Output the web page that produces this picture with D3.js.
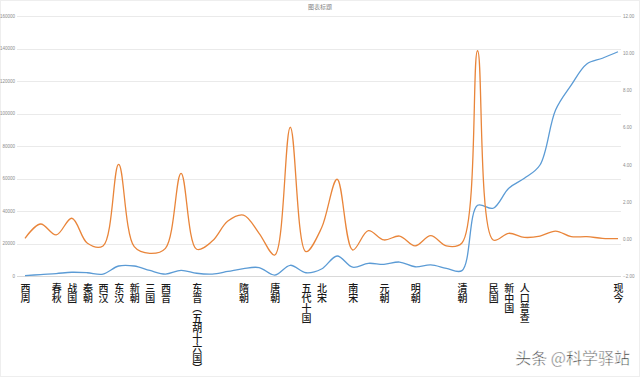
<!DOCTYPE html>
<html>
<head>
<meta charset="utf-8">
<script src="https://cdn.jsdelivr.net/npm/d3@7"></script>
<style>
  body { margin: 0; background: #fff; }
</style>
</head>
<body>
<div id="chart"></div>
<script>
// Period labels along the x axis (empty = unlabeled point)
const categories = [
    "西周", "", "春秋", "战国", "秦朝", "西汉", "东汉", "新朝", "三国", "西晋",
    "", "东晋（五胡十六国）", "", "", "隋朝", "", "唐朝", "", "五代十国", "北宋",
    "", "南宋", "", "元朝", "", "明朝", "", "", "清朝", "",
    "民国", "新中国", "人口普查", "", "", "", "", "", "现今"
];

// Blue series (left axis)
const population = [
    200, 900, 1500, 2300, 2000, 1200, 6150, 6150, 3400, 1200,
    3500, 1700, 1200, 2800, 4600, 5200, 600, 6600, 2000, 4300,
    12300, 5400, 7800, 7200, 8600, 5700, 6800, 4700, 3300, 43500,
    41700, 54000, 60100, 68300, 102200, 117500, 130500, 134000, 138000
];

// Orange series (right axis)
const growth = [
    0.03, 0.80, 0.21, 1.11, -0.24, -0.38, 4.01, -0.42, -0.78, -0.51,
    3.53, -0.56, -0.12, 0.96, 1.28, 0.30, -0.87, 6.01, -0.69, 0.58,
    3.21, -0.60, 0.44, -0.06, 0.15, -0.38, 0.17, -0.38, -0.22, 10.13,
    -0.06, 0.30, 0.08, 0.15, 0.42, 0.12, 0.12, 0.03, 0.01
];

const leftTicks = [0, 20000, 40000, 60000, 80000, 100000, 120000, 140000, 160000];
const rightTicks = [-2, 0, 2, 4, 6, 8, 10, 12];

const W = 640, H = 377;
const plot = { left: 17, right: 621, top: 16, bottom: 276 };

const svg = d3.select("#chart")
    .append("svg")
    .attr("width", W)
    .attr("height", H);

// faint outer border
svg.append("rect")
    .attr("x", 0.5).attr("y", 0.5)
    .attr("width", W - 1).attr("height", H - 1)
    .attr("fill", "none")
    .attr("stroke", "#eeeeee");

const xScale = d3.scalePoint()
    .domain(categories.map((d, i) => i))
    .range([25, 618]);

const yLeft = d3.scaleLinear()
    .domain([0, 160000])
    .range([plot.bottom, plot.top]);

const yRight = d3.scaleLinear()
    .domain([-2, 12])
    .range([plot.bottom, plot.top]);

// gridlines
svg.append("g")
    .selectAll("line")
    .data(leftTicks)
    .enter()
    .append("line")
    .attr("x1", plot.left)
    .attr("x2", plot.right)
    .attr("y1", d => Math.round(yLeft(d)) + 0.5)
    .attr("y2", d => Math.round(yLeft(d)) + 0.5)
    .attr("stroke", d => d === 0 ? "#d9d9d9" : "#eaeaea")
    .attr("stroke-width", 1);

// left axis labels
const leftAxis = svg.append("g")
    .attr("transform", `translate(${plot.left - 2},0)`)
    .call(d3.axisLeft(yLeft).tickValues(leftTicks).tickSize(0).tickPadding(0).tickFormat(d3.format("d")));
leftAxis.select(".domain").remove();
leftAxis.selectAll("text")
    .attr("font-family", "Liberation Sans, sans-serif")
    .attr("font-size", 4.5)
    .attr("fill", "#8c8c8c");

// right axis labels
const rightAxis = svg.append("g")
    .attr("transform", `translate(${plot.right + 2},0)`)
    .call(d3.axisRight(yRight).tickValues(rightTicks).tickSize(0).tickPadding(0).tickFormat(d3.format(".2f")));
rightAxis.select(".domain").remove();
rightAxis.selectAll("text")
    .attr("font-family", "Liberation Sans, sans-serif")
    .attr("font-size", 4.5)
    .attr("fill", "#8c8c8c");

// x axis labels, written vertically
const xAxis = svg.append("g")
    .attr("transform", `translate(0,${plot.bottom})`)
    .call(d3.axisBottom(xScale).tickSize(0).tickFormat(i => categories[i]));
xAxis.select(".domain").remove();
xAxis.selectAll("text")
    .attr("writing-mode", "vertical-rl")
    .attr("text-anchor", "start")
    .attr("x", 0)
    .attr("y", 7)
    .attr("dy", null)
    .attr("font-family", "Noto Sans CJK SC, sans-serif")
    .attr("font-size", 10)
    .attr("font-weight", 500)
    .attr("fill", "#1a1a1a");

// lines
const blueLine = d3.line()
    .x((d, i) => xScale(i))
    .y(d => yLeft(d))
    .curve(d3.curveCatmullRom.alpha(0.5));

const orangeLine = d3.line()
    .x((d, i) => xScale(i))
    .y(d => yRight(d))
    .curve(d3.curveCatmullRom.alpha(0.5));

svg.append("path")
    .datum(population)
    .attr("d", blueLine)
    .attr("fill", "none")
    .attr("stroke", "#5b9bd5")
    .attr("stroke-width", 1.3);

svg.append("path")
    .datum(growth)
    .attr("d", orangeLine)
    .attr("fill", "none")
    .attr("stroke", "#e9853a")
    .attr("stroke-width", 1.3);

// title
svg.append("text")
    .attr("x", W / 2)
    .attr("y", 9)
    .attr("text-anchor", "middle")
    .attr("font-family", "Noto Sans CJK SC, sans-serif")
    .attr("font-size", 6)
    .attr("fill", "#7f7f7f")
    .text("图表标题");

// watermark
svg.append("text")
    .attr("x", 630)
    .attr("y", 364)
    .attr("text-anchor", "end")
    .attr("font-family", "Noto Sans CJK SC, sans-serif")
    .attr("font-size", 16)
    .attr("fill", "#333")
    .attr("stroke", "#fff")
    .attr("stroke-width", 0.5)
    .text("头条 @科学驿站");
</script>
</body>
</html>
